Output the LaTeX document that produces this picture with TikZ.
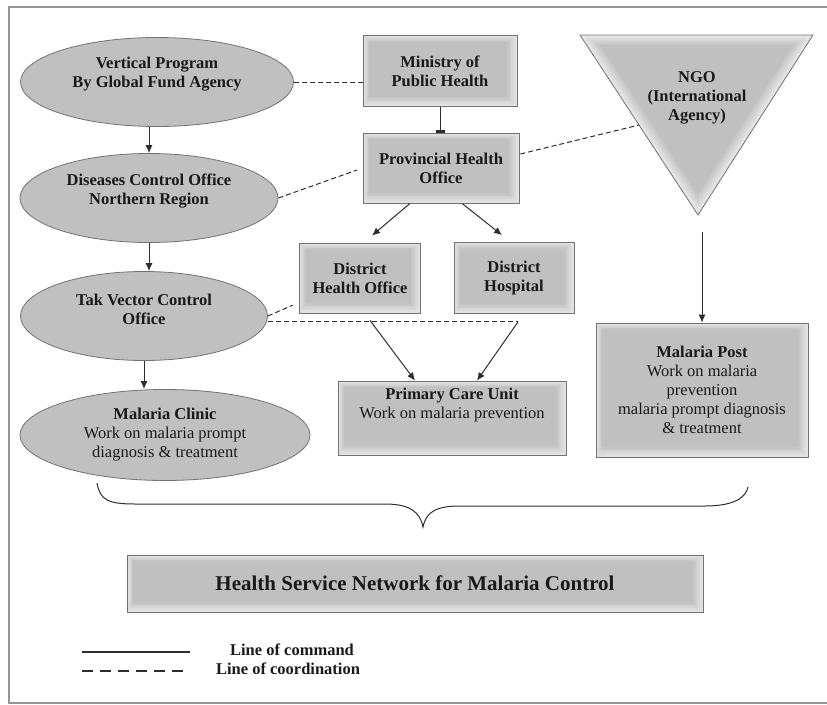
\documentclass[tikz,border=0pt]{standalone}
\usepackage{fontspec}
\setmainfont{Liberation Serif}
\usetikzlibrary{shapes.geometric,arrows.meta,calc}

\definecolor{glowlight}{RGB}{228,228,228}
\definecolor{glowmid}{RGB}{212,212,212}
\definecolor{glowdark}{RGB}{192,192,192}
\definecolor{edgegray}{RGB}{115,115,115}
\definecolor{linegray}{RGB}{45,45,45}
\definecolor{framegray}{RGB}{150,150,150}
\definecolor{inkgray}{RGB}{25,25,25}

\pgfdeclareradialshading{ovalglow}{\pgfpoint{0bp}{0bp}}{color(0bp)=(glowdark); color(33bp)=(glowdark); color(43bp)=(glowmid); color(50bp)=(glowlight)}

\tikzstyle{txt} = [font=\fontsize{16.5}{19}\selectfont, text=inkgray, align=center]
\tikzstyle{boldtxt} = [txt, font=\fontsize{16.5}{19}\selectfont\bfseries]
\tikzstyle{oval} = [ellipse, draw=edgegray, line width=0.8pt, shading=ovalglow, inner sep=0pt]
\tikzstyle{box} = [rectangle, draw=edgegray, line width=0.8pt, fill=glowlight, inner sep=0pt, text=inkgray,
  path picture={
    \foreach \k in {1,...,7}{
      \pgfmathsetmacro{\pct}{\k*100/7}
      \fill[glowdark!\pct!glowlight] ([shift={({0.9*\k pt},{1.4*\k pt})}]path picture bounding box.south west)
        rectangle ([shift={({-1.4*\k pt},{-0.9*\k pt})}]path picture bounding box.north east);
    }
  }]
\tikzstyle{command} = [draw=linegray, line width=1pt, -{Latex[length=8pt,width=7pt]}]
\tikzstyle{commandstop} = [draw=linegray, line width=1pt, -{Bar[width=9pt,line width=2.5pt]}]
\tikzstyle{coordination} = [draw=linegray, line width=1pt, dash pattern=on 5pt off 3pt]

\begin{document}
\begin{tikzpicture}[x=1pt,y=-1pt]
  \useasboundingbox (0,0) rectangle (827,704);
  %frame
  \draw[framegray, line width=1.2pt] (827,7) -- (9,7) -- (9,703) -- (827,703);

  %ovals
  \foreach \nodename/\x/\y/\w/\h in {
    vp/157/82/273/89,
    dco/149/198/258/89,
    tak/144/316/247/89,
    clinic/165/435/290/91}
  {
    \node[oval, minimum width=\w pt, minimum height=\h pt] (\nodename) at (\x,\y) {};
  };
  \node[boldtxt] (vptext) at ([yshift=8pt]vp) {Vertical Program\\By Global Fund Agency};
  \node[boldtxt] (dcotext) at ([yshift=7pt]dco) {Diseases Control Office\\Northern Region};
  \node[boldtxt] (taktext) at ([yshift=7pt]tak) {Tak Vector Control\\Office};
  \node[txt] (clinictext) at (clinic) {\textbf{Malaria Clinic}\\Work on malaria prompt\\diagnosis \& treatment};

  %boxes
  \foreach \nodename/\x/\y/\w/\h/\boxtext in {
    min/440/71/154/71/{Ministry of\\Public Health},
    prov/441/168/156/70/{Provincial Health\\Office},
    dho/360/278/121/70/{District\\Health Office},
    dh/514/278/120/71/{District\\Hospital}}
  {
    \node[box, boldtxt, minimum width=\w pt, minimum height=\h pt] (\nodename) at (\x,\y) {\boxtext};
  };
  \node[box, minimum width=228pt, minimum height=74pt] (pcu) at (452,418) {};
  \node[txt] (pcutext) at ([yshift=13pt]pcu) {\textbf{Primary Care Unit}\\Work on malaria prevention};
  \node[box, txt, minimum width=212pt, minimum height=134pt] (mpost) at (702,390)
    {\textbf{Malaria Post}\\Work on malaria\\prevention\\malaria prompt diagnosis\\\& treatment};
  \node[box, font=\fontsize{21}{25}\selectfont\bfseries, minimum width=576pt, minimum height=57pt] (network) at (415,583.5)
    {Health Service Network for Malaria Control};

  %ngo triangle
  \coordinate (ngoA) at (580,35);
  \coordinate (ngoB) at (813,35);
  \coordinate (ngoC) at (698,215);
  \coordinate (ngoM) at (697,95);
  \filldraw[fill=glowlight, draw=edgegray, line width=0.8pt] (ngoA) -- (ngoB) -- (ngoC) -- cycle;
  \foreach \s/\pct in {0.95/25, 0.91/50, 0.87/75, 0.83/100}
  {
    \fill[glowdark!\pct!glowlight] ($(ngoM)!\s!(ngoA)$) -- ($(ngoM)!\s!(ngoB)$) -- ($(ngoM)!\s!(ngoC)$) -- cycle;
  };
  \node[boldtxt] (ngo) at (697,98) {NGO\\(International\\Agency)};
  \coordinate (ngoedge) at ($(ngoA)!0.5!(ngoC)$);

  %lines of command
  \draw[command] (vp.south -| dco.north) -- (dco.north);
  \draw[command] (dco.south) -- (dco.south |- tak.north);
  \draw[command] (tak.south) -- (tak.south |- clinic.north);
  \draw[commandstop] (min.south) -- (min.south |- prov.north);
  \draw[command] ($(prov.south)+(-31,0)$) -- ($(dho.north)+(12,-7)$);
  \draw[command] ($(prov.south)+(21,0)$) -- ($(dh.north)+(-12,-7)$);
  \draw[command] ($(dho.south)+(10,7)$) -- ($(pcu.north)+(-37,0)$);
  \coordinate (dhfoot) at ($(dh.south)+(4,8)$);
  \draw[command] (dhfoot) -- ($(pcu.north)+(25,0)$);
  \draw[command] ($(ngoC)+(4,17)$) -- (mpost.north);

  %lines of coordination
  \draw[coordination] (vp.east) -- (vp.east -| min.west);
  \draw[coordination, shorten >=6pt] (dco.east) -- (prov.west);
  \draw[coordination] ($(prov.east)+(1,-14)$) -- (ngoedge);
  \draw[coordination, shorten >=7pt] (tak.east) -- ($(dho.south west)+(0,-11)$);
  \draw[coordination] (tak.east |- dhfoot) -- (dhfoot);

  %brace
  \draw[linegray, line width=1pt] (97,483) .. controls (100,500) and (108,504) .. (135,504) -- (385,504)
    .. controls (410,504) and (420,512) .. (423,527) .. controls (426,512) and (436,506) .. (460,506)
    -- (705,506) .. controls (735,506) and (746,497) .. (748,487);

  %legend
  \coordinate (cmdA) at (82,652);
  \coordinate (cmdB) at (190,652);
  \coordinate (coordA) at (82,671);
  \coordinate (coordB) at (190,671);
  \draw[linegray, line width=1.2pt] (cmdA) -- (cmdB);
  \draw[linegray, line width=1.2pt, dash pattern=on 11pt off 7pt] (coordA) -- (coordB);
  \node[boldtxt] (cmdtext) at (292,650) {Line of command};
  \node[boldtxt] (coordtext) at (288,669) {Line of coordination};
\end{tikzpicture}
\end{document}
